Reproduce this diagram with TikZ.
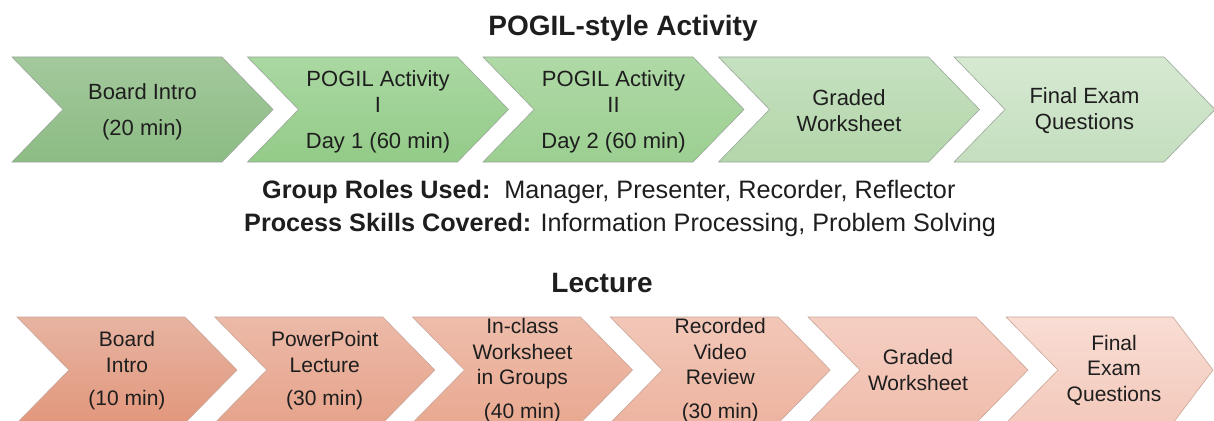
\documentclass[tikz,border=0pt]{standalone}
\usepackage{fontspec}
\setmainfont{Liberation Sans}
\definecolor{txt}{HTML}{1E1E1E}
\definecolor{edge}{HTML}{9AA79A}
\definecolor{edgeR}{HTML}{C9A69A}
\definecolor{gA1}{HTML}{A3C89C}\definecolor{gA2}{HTML}{8CBC83}
\definecolor{gB1}{HTML}{AAD8A2}\definecolor{gB2}{HTML}{93CB88}
\definecolor{gC1}{HTML}{AFD9A6}\definecolor{gC2}{HTML}{9CCF91}
\definecolor{gD1}{HTML}{C6E1C0}\definecolor{gD2}{HTML}{B3D6AA}
\definecolor{gE1}{HTML}{D6E9D2}\definecolor{gE2}{HTML}{C4DEBE}
\definecolor{rA1}{HTML}{E7B4A2}\definecolor{rA2}{HTML}{E2977C}
\definecolor{rB1}{HTML}{ECBAA8}\definecolor{rB2}{HTML}{E6A38B}
\definecolor{rC1}{HTML}{EEBDAB}\definecolor{rC2}{HTML}{E9A991}
\definecolor{rD1}{HTML}{F2C7B8}\definecolor{rD2}{HTML}{EDB4A0}
\definecolor{rE1}{HTML}{F5CFC3}\definecolor{rE2}{HTML}{F0BDAC}
\definecolor{rF1}{HTML}{F9DDD4}\definecolor{rF2}{HTML}{F3C9BB}
% #1 left x, #2 notch x, #3 right corner x, #4 tip x, #5 top y, #6 height, #7 top colour, #8 bottom colour, #9 edge colour
\newcommand{\chev}[9]{\path[draw=#9, line width=0.6pt, top color=#7, bottom color=#8]
  (#1,#5) -- (#3,#5) -- (#4,{#5+#6/2}) -- (#3,{#5+#6}) -- (#1,{#5+#6}) -- (#2,{#5+#6/2}) -- cycle;}
\tikzset{
  toptxt/.style={align=center, text=txt, inner sep=0pt, font=\fontsize{22}{26}\selectfont},
  bottxt/.style={align=center, text=txt, inner sep=0pt, font=\fontsize{21}{25.5}\selectfont},
  heading/.style={text=txt, inner sep=0pt, anchor=base, font=\fontsize{28}{32}\selectfont\bfseries},
  infoline/.style={text=txt, inner sep=0pt, anchor=base west, font=\fontsize{25.2}{30}\selectfont}
}
\begin{document}
\begin{tikzpicture}[x=1pt,y=-1pt]
\useasboundingbox[fill=white] (0,0) rectangle (1214,420);
% top row
\chev{12}{63}{222}{273}{57}{105}{gA1}{gA2}{edge}
\chev{247.5}{298.5}{457.5}{508.5}{57}{105}{gB1}{gB2}{edge}
\chev{483}{534}{693}{744}{57}{105}{gC1}{gC2}{edge}
\chev{718.5}{769.5}{928.5}{979.5}{57}{105}{gD1}{gD2}{edge}
\chev{954}{1005}{1164}{1215}{57}{105}{gE1}{gE2}{edge}
\node[heading] (title1) at (623,36) {POGIL-style Activity};
\node[toptxt] (t1) at (142.5,111.5) {Board Intro\\[10pt](20 min)};
\node[toptxt] (t2) at (378,111.5) {POGIL Activity\\I\\[10pt]Day 1 (60 min)};
\node[toptxt] (t3) at (613.5,111.5) {POGIL Activity\\II\\[10pt]Day 2 (60 min)};
\node[toptxt] (t4) at (849,111) {Graded\\Worksheet};
\node[toptxt] (t5) at (1084.5,111) {Final Exam\\Questions};
\node[infoline] (roles) at (262,198) {\textbf{Group Roles Used:}\ \ Manager, Presenter, Recorder, Reflector};
\node[infoline] (skills) at (244,231) {\textbf{Process Skills Covered:} Information Processing, Problem Solving};
\node[heading] (title2) at (602,292) {Lecture};
% bottom row
\chev{17}{69}{185}{237}{317}{106}{rA1}{rA2}{edgeR}
\chev{214.75}{266.75}{382.75}{434.75}{317}{106}{rB1}{rB2}{edgeR}
\chev{412.5}{464.5}{580.5}{632.5}{317}{106}{rC1}{rC2}{edgeR}
\chev{610.25}{662.25}{778.25}{830.25}{317}{106}{rD1}{rD2}{edgeR}
\chev{808}{860}{976}{1028}{317}{106}{rE1}{rE2}{edgeR}
\chev{1006}{1058}{1173}{1213}{317}{106}{rF1}{rF2}{edgeR}
\node[bottxt] (b1) at (127,371) {Board\\Intro\\[8pt](10 min)};
\node[bottxt] (b2) at (324.75,371) {PowerPoint\\Lecture\\[8pt](30 min)};
\node[bottxt] (b3) at (522.5,370.5) {In-class\\Worksheet\\in Groups\\[8pt](40 min)};
\node[bottxt] (b4) at (720.25,370.5) {Recorded\\Video\\Review\\[8pt](30 min)};
\node[bottxt] (b5) at (918,370) {Graded\\Worksheet};
\node[bottxt] (b6) at (1114,370) {Final\\Exam\\Questions};
\end{tikzpicture}
\end{document}
